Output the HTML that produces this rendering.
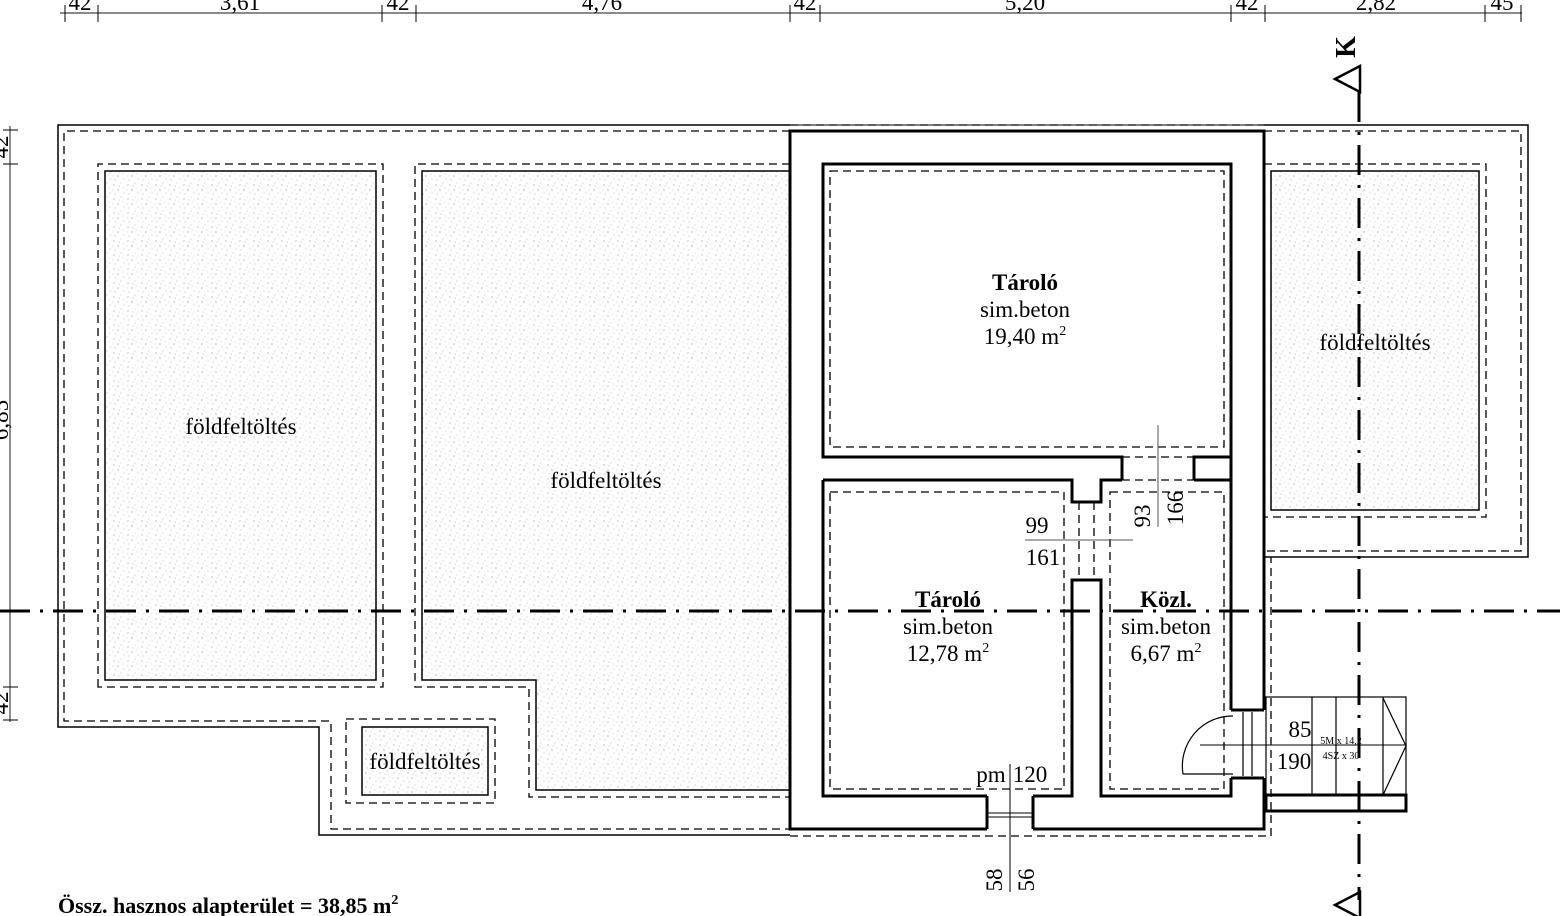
<!DOCTYPE html>
<html><head><meta charset="utf-8"><style>
html,body{margin:0;padding:0;background:#fff;}
svg{display:block;font-family:"Liberation Serif",serif;}
</style></head><body>
<svg width="1560" height="916" viewBox="0 0 1560 916" xmlns="http://www.w3.org/2000/svg">
<defs>
<pattern id="dots" width="14" height="14" patternUnits="userSpaceOnUse">
<rect width="14" height="14" fill="#fff"/>
<circle cx="2" cy="3" r="0.6" fill="#999"/><circle cx="9" cy="1" r="0.5" fill="#aaa"/>
<circle cx="6" cy="8" r="0.6" fill="#888"/><circle cx="12" cy="11" r="0.5" fill="#aaa"/>
<circle cx="3" cy="12" r="0.5" fill="#999"/><circle cx="11" cy="6" r="0.5" fill="#bbb"/>
<circle cx="7" cy="4" r="0.5" fill="#aaa"/><circle cx="1" cy="8" r="0.5" fill="#bbb"/>
</pattern>
</defs>
<g fill="none" stroke="#000">
<line x1="60" y1="13" x2="1522" y2="13" stroke="#444" stroke-width="1.2"/>
<g stroke-width="1">
<line x1="65" y1="5" x2="65" y2="22"/><line x1="98" y1="5" x2="98" y2="22"/>
<line x1="382" y1="5" x2="382" y2="22"/><line x1="416" y1="5" x2="416" y2="22"/>
<line x1="790" y1="5" x2="790" y2="22"/><line x1="820" y1="5" x2="820" y2="22"/>
<line x1="1231" y1="5" x2="1231" y2="22"/><line x1="1265" y1="5" x2="1265" y2="22"/>
<line x1="1485" y1="5" x2="1485" y2="22"/><line x1="1521" y1="5" x2="1521" y2="22"/>
</g>
<line x1="10" y1="126" x2="10" y2="722" stroke="#444" stroke-width="1.2"/>
<g stroke-width="1">
<line x1="3" y1="130" x2="18" y2="130"/><line x1="3" y1="164" x2="18" y2="164"/>
<line x1="3" y1="687" x2="18" y2="687"/><line x1="3" y1="720" x2="18" y2="720"/>
</g>
<rect x="105" y="171" width="271" height="509" fill="url(#dots)" stroke-width="1.5"/>
<path d="M422 171 H790 V790 H536 V680 H422 Z" fill="url(#dots)" stroke-width="1.5"/>
<rect x="362" y="727" width="126" height="68" fill="url(#dots)" stroke-width="1.5"/>
<rect x="1271" y="171" width="208" height="339" fill="url(#dots)" stroke-width="1.5"/>
<path d="M790 125 H58 V727 H319 V835 H790" stroke-width="1.5"/>
<path d="M1264 125 H1528 V557 H1264" stroke-width="1.5"/>
<line x1="790" y1="125" x2="1264" y2="125" stroke-width="1"/>
<g stroke-dasharray="8 5" stroke-width="1.3">
<path d="M790 131 H64 V721 H331 V829 H790"/>
<path d="M98 687 V164 H383 V687 Z"/>
<path d="M790 164 H415 V687 H529 V797 H790"/>
<rect x="346" y="719" width="149" height="84"/>
<path d="M1264 164 H1486 V517 H1264"/>
<path d="M1264 131 H1521 V551 H1264"/>
<path d="M790 836 H1271 V557"/>
<line x1="790" y1="125" x2="1264" y2="125"/>
<rect x="830" y="171" width="394" height="276"/>
<rect x="830" y="492" width="234" height="297"/>
<rect x="1110" y="492" width="114" height="297"/>
<path d="M1122 457 V480 M1194 457 V480 M1122 480 H1194 M1122 457 H1194"/>
<path d="M1079 502 V580 M1094 502 V580"/>
</g>
<g stroke-width="3" stroke-linejoin="miter">
<path d="M987 829 H790 V131 H1264 V710 M1264 778 V829 H1033"/>
<path d="M1231 710 V164 H823 V457 H1122 V480 M1194 480 V457 H1231"/>
<path d="M1231 710 H1264 M1231 778 H1264"/>
<path d="M823 480 V796 H987 M1033 796 H1072 V580 H1101 V796 H1231 V778"/>
<path d="M823 480 H1072 V502 H1101 V480 H1122 M1194 480 H1231 V490"/>
<line x1="987" y1="796" x2="987" y2="829"/><line x1="1033" y1="796" x2="1033" y2="829"/>
</g>
<g stroke-width="1">
<line x1="987" y1="813" x2="1033" y2="813"/><line x1="987" y1="817" x2="1033" y2="817"/>
<line x1="1010" y1="764" x2="1010" y2="892"/>
</g>
<g stroke-width="1.2">
<path d="M1183 774 A50 50 0 0 1 1233 716"/>
<line x1="1183" y1="774" x2="1233" y2="774"/>
<line x1="1243" y1="712" x2="1243" y2="776"/><line x1="1252" y1="712" x2="1252" y2="776"/>
<line x1="1200" y1="745" x2="1406" y2="745" stroke-width="1"/>
</g>
<g stroke-width="1.2">
<rect x="1266" y="697" width="140" height="98"/>
<line x1="1312" y1="697" x2="1312" y2="795"/><line x1="1336" y1="697" x2="1336" y2="795"/>
<line x1="1383" y1="697" x2="1383" y2="795"/>
<polyline points="1383,698 1406,746 1383,795"/>
<rect x="1266" y="795" width="140" height="16" stroke-width="3"/>
</g>
<line x1="1025" y1="540" x2="1133" y2="540" stroke="#555" stroke-width="1"/>
<line x1="1158" y1="425" x2="1158" y2="527" stroke="#555" stroke-width="1"/>
<g stroke-width="3" stroke-dasharray="30 10 3 10">
<line x1="0" y1="611" x2="1560" y2="611"/>
<line x1="1359" y1="92" x2="1359" y2="900"/>
</g>
<polygon points="1335,79 1360,66 1360,92" stroke-width="2.5" fill="none"/>
<polygon points="1335,905 1360,892 1360,918" stroke-width="2.5" fill="none"/>
</g>
<g fill="#000" font-size="23">
<text x="80" y="10" text-anchor="middle">42</text>
<text x="240" y="10" text-anchor="middle">3,61</text>
<text x="398" y="10" text-anchor="middle">42</text>
<text x="602" y="10" text-anchor="middle">4,76</text>
<text x="805" y="10" text-anchor="middle">42</text>
<text x="1025" y="10" text-anchor="middle">5,20</text>
<text x="1247" y="10" text-anchor="middle">42</text>
<text x="1376" y="10" text-anchor="middle">2,82</text>
<text x="1502" y="10" text-anchor="middle">45</text>
<text transform="translate(8,147) rotate(-90)" text-anchor="middle">42</text>
<text transform="translate(8,420) rotate(-90)" text-anchor="middle">6,85</text>
<text transform="translate(8,703) rotate(-90)" text-anchor="middle">42</text>
<text transform="translate(1355,47) rotate(-90)" text-anchor="middle" font-weight="bold" font-size="28">K</text>
<text x="241" y="434" text-anchor="middle">földfeltöltés</text>
<text x="606" y="488" text-anchor="middle">földfeltöltés</text>
<text x="1375" y="350" text-anchor="middle">földfeltöltés</text>
<text x="425" y="769" text-anchor="middle">földfeltöltés</text>
<text x="1025" y="290" text-anchor="middle" font-weight="bold">Tároló</text>
<text x="1025" y="317" text-anchor="middle">sim.beton</text>
<text x="1025" y="344" text-anchor="middle">19,40 m<tspan font-size="14" dy="-9">2</tspan></text>
<text x="948" y="607" text-anchor="middle" font-weight="bold">Tároló</text>
<text x="948" y="634" text-anchor="middle">sim.beton</text>
<text x="948" y="661" text-anchor="middle">12,78 m<tspan font-size="14" dy="-9">2</tspan></text>
<text x="1166" y="607" text-anchor="middle" font-weight="bold">Közl.</text>
<text x="1166" y="634" text-anchor="middle">sim.beton</text>
<text x="1166" y="661" text-anchor="middle">6,67 m<tspan font-size="14" dy="-9">2</tspan></text>
<text x="1037" y="533" text-anchor="middle">99</text>
<text x="1043" y="565" text-anchor="middle">161</text>
<text transform="translate(1150,516) rotate(-90)" text-anchor="middle">93</text>
<text transform="translate(1183,508) rotate(-90)" text-anchor="middle">166</text>
<text x="991" y="782" text-anchor="middle">pm</text>
<text x="1030" y="782" text-anchor="middle">120</text>
<text transform="translate(1002,880) rotate(-90)" text-anchor="middle">58</text>
<text transform="translate(1034,880) rotate(-90)" text-anchor="middle">56</text>
<text x="1300" y="737" text-anchor="middle">85</text>
<text x="1294" y="769" text-anchor="middle">190</text>
<text x="1341" y="744" text-anchor="middle" font-size="10">5M x 14,2</text>
<text x="1341" y="759" text-anchor="middle" font-size="10">4SZ x 30</text>
<text x="58" y="913" font-weight="bold" font-size="22">Össz. hasznos alapterület = 38,85 m<tspan font-size="14" dy="-9">2</tspan></text>
</g>
</svg>
</body></html>
